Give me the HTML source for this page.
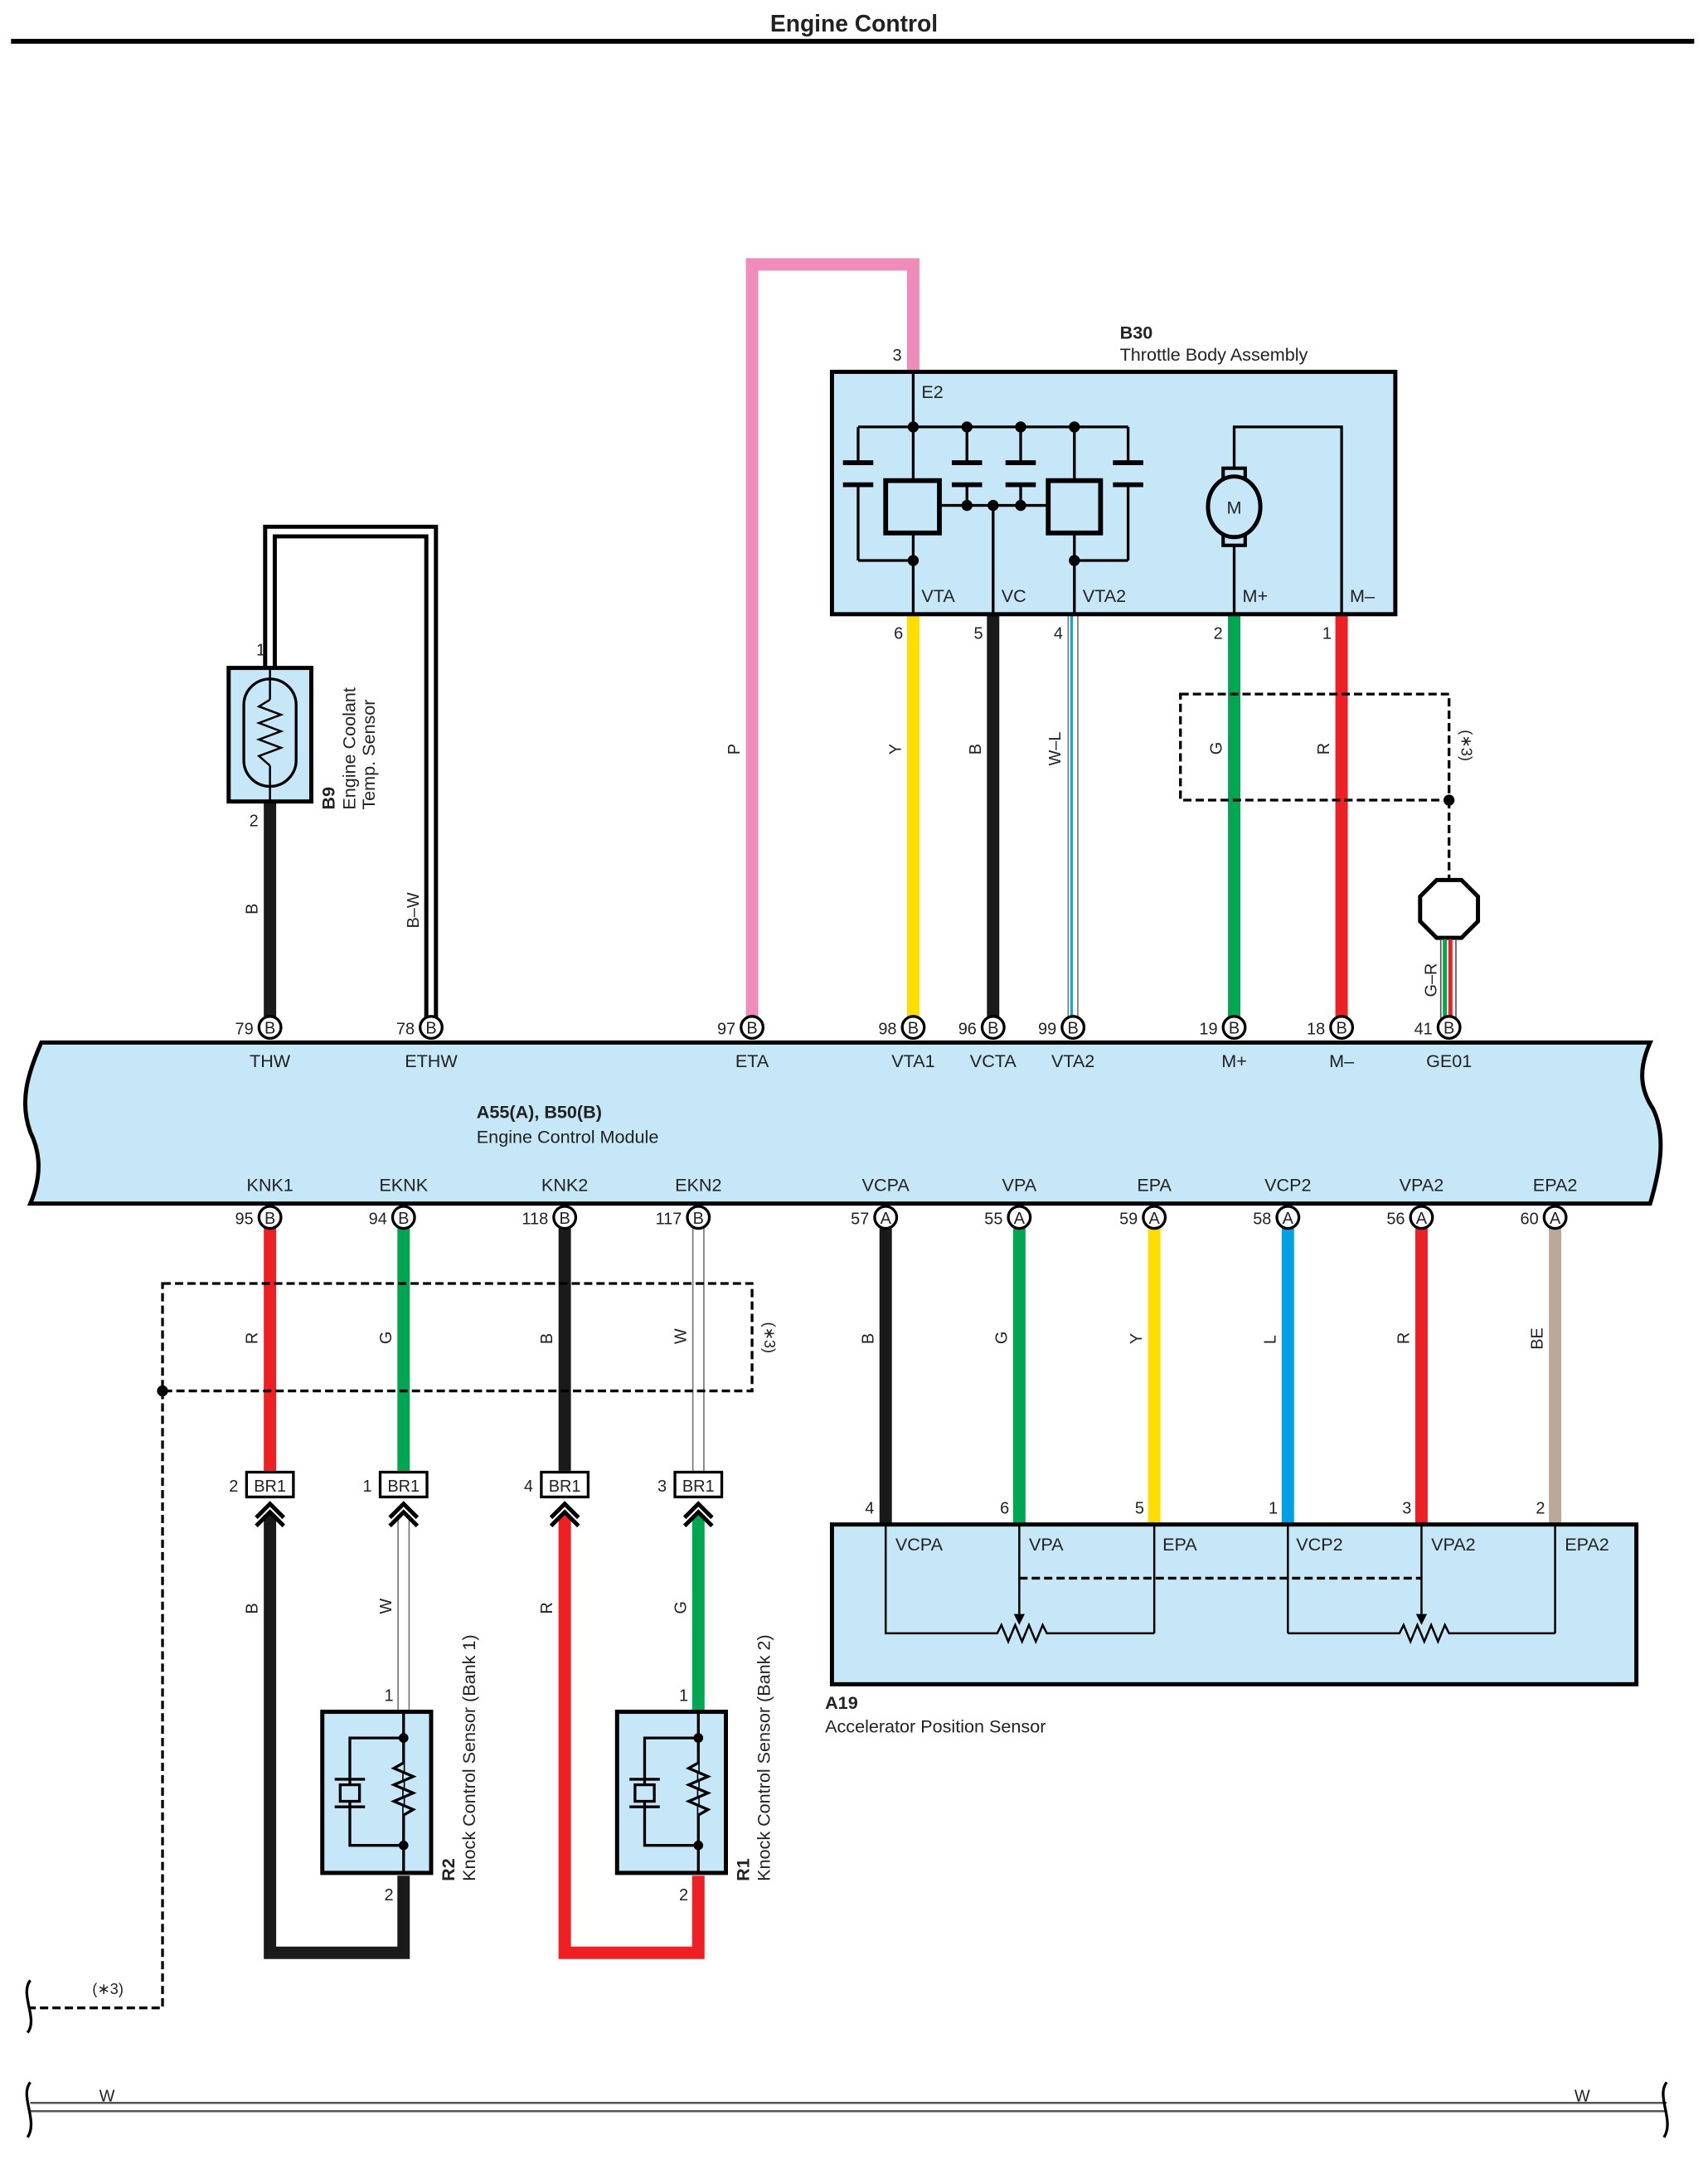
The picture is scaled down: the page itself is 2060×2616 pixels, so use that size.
<!DOCTYPE html>
<html><head><meta charset="utf-8"><style>
html,body{margin:0;padding:0;background:#fff}
svg{display:block}
text{font-family:"Liberation Sans",Arial,sans-serif;fill:#222}
</style></head><body>
<svg width="2060" height="2616" viewBox="0 0 1240 1575" preserveAspectRatio="none" xmlns="http://www.w3.org/2000/svg">
<defs>
<g id="pin"><circle r="8" fill="#fff" stroke="#000" stroke-width="2"/></g>
</defs>
<text x="620" y="23" font-size="17" font-weight="bold" text-anchor="middle">Engine Control</text>
<line x1="8" y1="30" x2="1230" y2="30" stroke="#000" stroke-width="3.5"/>

<!-- coolant sensor B-W double wire -->
<path d="M196 485 V386 H313 V740" fill="none" stroke="#000" stroke-width="10"/>
<path d="M196 485 V386 H313 V740" fill="none" stroke="#fff" stroke-width="4"/>
<line x1="196" y1="582" x2="196" y2="740" stroke="#1a1a1a" stroke-width="9"/>
<rect x="166" y="485" width="60" height="97" fill="#c5e7f7" stroke="#000" stroke-width="3"/>
<rect x="177" y="493" width="38" height="78" rx="19" fill="none" stroke="#000" stroke-width="2"/>
<line x1="196" y1="485" x2="196" y2="508" stroke="#000" stroke-width="1.5"/>
<line x1="196" y1="556" x2="196" y2="582" stroke="#000" stroke-width="1.5"/>
<path d="M196 508 l-8 5 16 6 -16 6 16 6 -16 6 16 6 -16 6 8 7" fill="none" stroke="#000" stroke-width="1.5"/>
<text x="186" y="476" font-size="12">1</text>
<text x="181" y="600" font-size="12">2</text>
<text transform="translate(243,588) rotate(-90)" font-size="13" font-weight="bold">B9</text>
<text transform="translate(258,588) rotate(-90)" font-size="13">Engine Coolant</text>
<text transform="translate(272,588) rotate(-90)" font-size="13">Temp.  Sensor</text>
<text transform="translate(187,664) rotate(-90)" font-size="12">B</text>
<text transform="translate(304,674) rotate(-90)" font-size="12">B–W</text>

<!-- pink -->
<path d="M546 740 V192 H663 V270" fill="none" stroke="#f08cba" stroke-width="9"/>
<text transform="translate(537,548) rotate(-90)" font-size="12">P</text>
<text x="648" y="262" font-size="12">3</text>

<!-- throttle wires -->
<line x1="663" y1="446" x2="663" y2="740" stroke="#ffdd00" stroke-width="9"/>
<line x1="721" y1="446" x2="721" y2="740" stroke="#1a1a1a" stroke-width="9"/>
<line x1="779" y1="446" x2="779" y2="740" stroke="#777" stroke-width="8"/>
<line x1="779" y1="446" x2="779" y2="740" stroke="#fff" stroke-width="6"/>
<line x1="778" y1="446" x2="778" y2="740" stroke="#1ea0e0" stroke-width="2"/>
<line x1="896" y1="446" x2="896" y2="740" stroke="#00a651" stroke-width="9"/>
<line x1="974" y1="446" x2="974" y2="740" stroke="#ee2024" stroke-width="9"/>
<text transform="translate(654,548) rotate(-90)" font-size="12">Y</text>
<text transform="translate(712,548) rotate(-90)" font-size="12">B</text>
<text transform="translate(770,556) rotate(-90)" font-size="12">W–L</text>
<text transform="translate(887,548) rotate(-90)" font-size="12">G</text>
<text transform="translate(965,548) rotate(-90)" font-size="12">R</text>
<text x="649" y="464" font-size="12">6</text>
<text x="707" y="464" font-size="12">5</text>
<text x="765" y="464" font-size="12">4</text>
<text x="881" y="464" font-size="12">2</text>
<text x="960" y="464" font-size="12">1</text>
<rect x="857" y="504" width="195" height="77" fill="none" stroke="#000" stroke-width="2" stroke-dasharray="6,3"/>
<circle cx="1052" cy="581" r="4"/>
<line x1="1052" y1="581" x2="1052" y2="638" stroke="#000" stroke-width="2" stroke-dasharray="6,3"/>
<text transform="translate(1061,530) rotate(90)" font-size="11">(∗3)</text>
<polygon points="1043,639 1061,639 1073,651 1073,669 1061,681 1043,681 1031,669 1031,651" fill="#fff" stroke="#000" stroke-width="3"/>
<line x1="1049" y1="682" x2="1049" y2="740" stroke="#00a651" stroke-width="3"/>
<line x1="1053" y1="682" x2="1053" y2="740" stroke="#ee2024" stroke-width="3"/>
<line x1="1046" y1="682" x2="1046" y2="740" stroke="#555" stroke-width="1"/>
<line x1="1057" y1="682" x2="1057" y2="740" stroke="#555" stroke-width="1"/>
<text transform="translate(1043,724) rotate(-90)" font-size="12">G–R</text>

<!-- throttle body -->
<text x="813" y="246" font-size="13" font-weight="bold">B30</text>
<text x="813" y="262" font-size="13">Throttle Body Assembly</text>
<rect x="604" y="270" width="409" height="176" fill="#c5e7f7" stroke="#000" stroke-width="3"/>
<g stroke="#000" stroke-width="2" fill="none">
<line x1="663" y1="270" x2="663" y2="349"/>
<line x1="623" y1="310" x2="819" y2="310"/>
<line x1="623" y1="310" x2="623" y2="336"/><line x1="623" y1="352" x2="623" y2="407"/>
<line x1="702" y1="310" x2="702" y2="336"/><line x1="702" y1="352" x2="702" y2="367"/>
<line x1="741" y1="310" x2="741" y2="336"/><line x1="741" y1="352" x2="741" y2="367"/>
<line x1="819" y1="310" x2="819" y2="336"/><line x1="819" y1="352" x2="819" y2="407"/>
<line x1="780" y1="310" x2="780" y2="349"/>
<line x1="682" y1="367" x2="760" y2="367"/>
<line x1="721" y1="367" x2="721" y2="446"/>
<line x1="663" y1="387" x2="663" y2="446"/>
<line x1="780" y1="387" x2="780" y2="446"/>
<line x1="623" y1="407" x2="663" y2="407"/>
<line x1="780" y1="407" x2="819" y2="407"/>
<path d="M896 346 V310 H974 V446"/>
<line x1="896" y1="390" x2="896" y2="446"/>
</g>
<g stroke="#000" stroke-width="3.5">
<line x1="612" y1="336" x2="634" y2="336"/><line x1="612" y1="352" x2="634" y2="352"/>
<line x1="691" y1="336" x2="713" y2="336"/><line x1="691" y1="352" x2="713" y2="352"/>
<line x1="730" y1="336" x2="752" y2="336"/><line x1="730" y1="352" x2="752" y2="352"/>
<line x1="808" y1="336" x2="830" y2="336"/><line x1="808" y1="352" x2="830" y2="352"/>
</g>
<rect x="643" y="349" width="39" height="38" fill="none" stroke="#000" stroke-width="3.5"/>
<rect x="761" y="349" width="38" height="38" fill="none" stroke="#000" stroke-width="3.5"/>
<g fill="#000"><circle cx="663" cy="310" r="4"/><circle cx="702" cy="310" r="4"/><circle cx="741" cy="310" r="4"/><circle cx="780" cy="310" r="4"/>
<circle cx="702" cy="367" r="4"/><circle cx="721" cy="367" r="4"/><circle cx="741" cy="367" r="4"/><circle cx="663" cy="407" r="4"/><circle cx="780" cy="407" r="4"/></g>
<rect x="888" y="340" width="16" height="10" fill="#c5e7f7" stroke="#000" stroke-width="2.5"/>
<rect x="888" y="386" width="16" height="10" fill="#c5e7f7" stroke="#000" stroke-width="2.5"/>
<ellipse cx="896" cy="368" rx="19" ry="22" fill="#c5e7f7" stroke="#000" stroke-width="3"/>
<text x="896" y="373" font-size="13" text-anchor="middle">M</text>
<text x="669" y="289" font-size="13">E2</text>
<text x="669" y="437" font-size="13">VTA</text>
<text x="727" y="437" font-size="13">VC</text>
<text x="786" y="437" font-size="13">VTA2</text>
<text x="902" y="437" font-size="13">M+</text>
<text x="980" y="437" font-size="13">M–</text>

<!-- ECM -->
<path d="M30 757 H1198 C1190 775 1190 790 1200 805 C1210 825 1205 850 1198 874 H22 C30 855 30 838 22 822 C14 800 20 780 30 757 Z" fill="#c5e7f7" stroke="#000" stroke-width="3"/>
<text x="346" y="812" font-size="13" font-weight="bold">A55(A), B50(B)</text>
<text x="346" y="830" font-size="13">Engine Control Module</text>
<g font-size="13" text-anchor="middle">
<text x="196" y="775">THW</text><text x="313" y="775">ETHW</text><text x="546" y="775">ETA</text><text x="663" y="775">VTA1</text><text x="721" y="775">VCTA</text><text x="779" y="775">VTA2</text><text x="896" y="775">M+</text><text x="974" y="775">M–</text><text x="1052" y="775">GE01</text>
<text x="196" y="865">KNK1</text><text x="293" y="865">EKNK</text><text x="410" y="865">KNK2</text><text x="507" y="865">EKN2</text><text x="643" y="865">VCPA</text><text x="740" y="865">VPA</text><text x="838" y="865">EPA</text><text x="935" y="865">VCP2</text><text x="1032" y="865">VPA2</text><text x="1129" y="865">EPA2</text>
</g>
<g font-size="12">
<g transform="translate(196,746)"><use href="#pin"/><text x="0" y="4.5" text-anchor="middle">B</text><text x="-12" y="5" text-anchor="end">79</text></g>
<g transform="translate(313,746)"><use href="#pin"/><text x="0" y="4.5" text-anchor="middle">B</text><text x="-12" y="5" text-anchor="end">78</text></g>
<g transform="translate(546,746)"><use href="#pin"/><text x="0" y="4.5" text-anchor="middle">B</text><text x="-12" y="5" text-anchor="end">97</text></g>
<g transform="translate(663,746)"><use href="#pin"/><text x="0" y="4.5" text-anchor="middle">B</text><text x="-12" y="5" text-anchor="end">98</text></g>
<g transform="translate(721,746)"><use href="#pin"/><text x="0" y="4.5" text-anchor="middle">B</text><text x="-12" y="5" text-anchor="end">96</text></g>
<g transform="translate(779,746)"><use href="#pin"/><text x="0" y="4.5" text-anchor="middle">B</text><text x="-12" y="5" text-anchor="end">99</text></g>
<g transform="translate(896,746)"><use href="#pin"/><text x="0" y="4.5" text-anchor="middle">B</text><text x="-12" y="5" text-anchor="end">19</text></g>
<g transform="translate(974,746)"><use href="#pin"/><text x="0" y="4.5" text-anchor="middle">B</text><text x="-12" y="5" text-anchor="end">18</text></g>
<g transform="translate(1052,746)"><use href="#pin"/><text x="0" y="4.5" text-anchor="middle">B</text><text x="-12" y="5" text-anchor="end">41</text></g>
</g>

<!-- bottom wires ECM -->
<line x1="196" y1="892" x2="196" y2="1068" stroke="#ee2024" stroke-width="9"/>
<line x1="293" y1="892" x2="293" y2="1068" stroke="#00a651" stroke-width="9"/>
<line x1="410" y1="892" x2="410" y2="1068" stroke="#1a1a1a" stroke-width="9"/>
<line x1="507" y1="892" x2="507" y2="1068" stroke="#777" stroke-width="9"/>
<line x1="507" y1="892" x2="507" y2="1068" stroke="#fff" stroke-width="7"/>
<line x1="643" y1="892" x2="643" y2="1107" stroke="#1a1a1a" stroke-width="9"/>
<line x1="740" y1="892" x2="740" y2="1107" stroke="#00a651" stroke-width="9"/>
<line x1="838" y1="892" x2="838" y2="1107" stroke="#ffdd00" stroke-width="9"/>
<line x1="935" y1="892" x2="935" y2="1107" stroke="#00a0e4" stroke-width="9"/>
<line x1="1032" y1="892" x2="1032" y2="1107" stroke="#ee2024" stroke-width="9"/>
<line x1="1129" y1="892" x2="1129" y2="1107" stroke="#b9a99a" stroke-width="9"/>
<g font-size="12">
<g transform="translate(196,884)"><use href="#pin"/><text x="0" y="4.5" text-anchor="middle">B</text><text x="-12" y="5" text-anchor="end">95</text></g>
<g transform="translate(293,884)"><use href="#pin"/><text x="0" y="4.5" text-anchor="middle">B</text><text x="-12" y="5" text-anchor="end">94</text></g>
<g transform="translate(410,884)"><use href="#pin"/><text x="0" y="4.5" text-anchor="middle">B</text><text x="-12" y="5" text-anchor="end">118</text></g>
<g transform="translate(507,884)"><use href="#pin"/><text x="0" y="4.5" text-anchor="middle">B</text><text x="-12" y="5" text-anchor="end">117</text></g>
<g transform="translate(643,884)"><use href="#pin"/><text x="0" y="4.5" text-anchor="middle">A</text><text x="-12" y="5" text-anchor="end">57</text></g>
<g transform="translate(740,884)"><use href="#pin"/><text x="0" y="4.5" text-anchor="middle">A</text><text x="-12" y="5" text-anchor="end">55</text></g>
<g transform="translate(838,884)"><use href="#pin"/><text x="0" y="4.5" text-anchor="middle">A</text><text x="-12" y="5" text-anchor="end">59</text></g>
<g transform="translate(935,884)"><use href="#pin"/><text x="0" y="4.5" text-anchor="middle">A</text><text x="-12" y="5" text-anchor="end">58</text></g>
<g transform="translate(1032,884)"><use href="#pin"/><text x="0" y="4.5" text-anchor="middle">A</text><text x="-12" y="5" text-anchor="end">56</text></g>
<g transform="translate(1129,884)"><use href="#pin"/><text x="0" y="4.5" text-anchor="middle">A</text><text x="-12" y="5" text-anchor="end">60</text></g>
<text transform="translate(187,976) rotate(-90)">R</text>
<text transform="translate(284,976) rotate(-90)">G</text>
<text transform="translate(401,976) rotate(-90)">B</text>
<text transform="translate(498,976) rotate(-90)">W</text>
<text transform="translate(634,976) rotate(-90)">B</text>
<text transform="translate(731,976) rotate(-90)">G</text>
<text transform="translate(829,976) rotate(-90)">Y</text>
<text transform="translate(926,976) rotate(-90)">L</text>
<text transform="translate(1023,976) rotate(-90)">R</text>
<text transform="translate(1120,980) rotate(-90)">BE</text>
</g>
<rect x="118" y="932" width="428" height="78" fill="none" stroke="#000" stroke-width="2" stroke-dasharray="6,3"/>
<text transform="translate(555,960) rotate(90)" font-size="11">(∗3)</text>
<circle cx="118" cy="1010" r="4"/>
<path d="M118 1010 V1458 H22" fill="none" stroke="#000" stroke-width="2" stroke-dasharray="6,3"/>
<text x="67" y="1448" font-size="11">(∗3)</text>
<path d="M22 1438 C14 1448 28 1466 20 1476" fill="none" stroke="#000" stroke-width="2"/>

<!-- BR1 connectors & below -->
<path d="M196 1100 V1418 H293 V1362" fill="none" stroke="#1a1a1a" stroke-width="9"/>
<path d="M410 1100 V1418 H507 V1362" fill="none" stroke="#ee2024" stroke-width="9"/>
<line x1="293" y1="1100" x2="293" y2="1243" stroke="#777" stroke-width="9"/>
<line x1="293" y1="1100" x2="293" y2="1243" stroke="#fff" stroke-width="7"/>
<line x1="507" y1="1100" x2="507" y2="1243" stroke="#00a651" stroke-width="9"/>
<g font-size="12">
<g transform="translate(196,1078)"><rect x="-17" y="-9" width="34" height="18" fill="#fff" stroke="#000" stroke-width="2"/><text x="0" y="5" text-anchor="middle">BR1</text><text x="-23" y="5" text-anchor="end">2</text><path d="M-10 24 L0 14 10 24 M-10 30 L0 20 10 30" fill="none" stroke="#000" stroke-width="3"/></g>
<g transform="translate(293,1078)"><rect x="-17" y="-9" width="34" height="18" fill="#fff" stroke="#000" stroke-width="2"/><text x="0" y="5" text-anchor="middle">BR1</text><text x="-23" y="5" text-anchor="end">1</text><path d="M-10 24 L0 14 10 24 M-10 30 L0 20 10 30" fill="none" stroke="#000" stroke-width="3"/></g>
<g transform="translate(410,1078)"><rect x="-17" y="-9" width="34" height="18" fill="#fff" stroke="#000" stroke-width="2"/><text x="0" y="5" text-anchor="middle">BR1</text><text x="-23" y="5" text-anchor="end">4</text><path d="M-10 24 L0 14 10 24 M-10 30 L0 20 10 30" fill="none" stroke="#000" stroke-width="3"/></g>
<g transform="translate(507,1078)"><rect x="-17" y="-9" width="34" height="18" fill="#fff" stroke="#000" stroke-width="2"/><text x="0" y="5" text-anchor="middle">BR1</text><text x="-23" y="5" text-anchor="end">3</text><path d="M-10 24 L0 14 10 24 M-10 30 L0 20 10 30" fill="none" stroke="#000" stroke-width="3"/></g>
<text transform="translate(187,1172) rotate(-90)">B</text>
<text transform="translate(284,1172) rotate(-90)">W</text>
<text transform="translate(401,1172) rotate(-90)">R</text>
<text transform="translate(498,1172) rotate(-90)">G</text>
<text x="279" y="1235">1</text><text x="279" y="1380">2</text>
<text x="493" y="1235">1</text><text x="493" y="1380">2</text>
</g>
<!-- knock sensors -->
<g id="ks">
<rect x="234" y="1243" width="79" height="117" fill="#c5e7f7" stroke="#000" stroke-width="3"/>
<g stroke="#000" stroke-width="2" fill="none">
<line x1="293" y1="1243" x2="293" y2="1360"/>
<path d="M293 1262 H254 V1296 M254 1308 V1340 H293"/>
<rect x="247" y="1296" width="14" height="12"/>
<line x1="243" y1="1292" x2="265" y2="1292"/><line x1="243" y1="1312" x2="265" y2="1312"/>
<path d="M293 1280 l-7 4 14 6 -14 6 14 6 -14 6 14 6 -7 4" fill="#c5e7f7"/>
</g>
<circle cx="293" cy="1262" r="3.5"/><circle cx="293" cy="1340" r="3.5"/>
</g>
<use href="#ks" transform="translate(214,0)"/>
<text transform="translate(330,1366) rotate(-90)" font-size="13" font-weight="bold">R2</text>
<text transform="translate(345,1366) rotate(-90)" font-size="13">Knock Control Sensor (Bank 1)</text>
<text transform="translate(544,1366) rotate(-90)" font-size="13" font-weight="bold">R1</text>
<text transform="translate(559,1366) rotate(-90)" font-size="13">Knock Control Sensor (Bank 2)</text>

<!-- A19 -->
<rect x="604" y="1107" width="584" height="116" fill="#c5e7f7" stroke="#000" stroke-width="3"/>
<g stroke="#000" stroke-width="1.5" fill="none">
<line x1="740" y1="1107" x2="740" y2="1172"/><line x1="838" y1="1107" x2="838" y2="1186"/>
<line x1="935" y1="1107" x2="935" y2="1186"/><line x1="1032" y1="1107" x2="1032" y2="1172"/><line x1="1129" y1="1107" x2="1129" y2="1186"/>
<path d="M643 1107 V1186 H724 l3 -6 5 12 5 -12 5 12 5 -12 5 12 5 -12 3 6 H838"/>
<path d="M935 1186 H1016 l3 -6 5 12 5 -12 5 12 5 -12 5 12 5 -12 3 6 H1129"/>
<line x1="740" y1="1146" x2="1032" y2="1146" stroke-dasharray="6,3" stroke-width="2"/>
</g>
<path d="M736 1172 L740 1180 744 1172 Z M1028 1172 L1032 1180 1036 1172 Z"/>
<g font-size="13">
<text x="650" y="1126">VCPA</text><text x="747" y="1126">VPA</text><text x="844" y="1126">EPA</text><text x="941" y="1126">VCP2</text><text x="1039" y="1126">VPA2</text><text x="1136" y="1126">EPA2</text>
</g>
<g font-size="12"><text x="628" y="1099">4</text><text x="726" y="1099">6</text><text x="824" y="1099">5</text><text x="921" y="1099">1</text><text x="1018" y="1099">3</text><text x="1115" y="1099">2</text></g>
<text x="599" y="1241" font-size="13" font-weight="bold">A19</text>
<text x="599" y="1258" font-size="13">Accelerator Position Sensor</text>

<!-- bottom W -->
<line x1="22" y1="1527" x2="1210" y2="1527" stroke="#555" stroke-width="1.5"/>
<line x1="22" y1="1533" x2="1210" y2="1533" stroke="#555" stroke-width="1.5"/>
<path d="M22 1512 C14 1522 28 1540 20 1552 M1210 1512 C1202 1522 1216 1540 1208 1552" fill="none" stroke="#000" stroke-width="2"/>
<text x="72" y="1526" font-size="12">W</text>
<text x="1143" y="1526" font-size="12">W</text>
</svg>
</body></html>
